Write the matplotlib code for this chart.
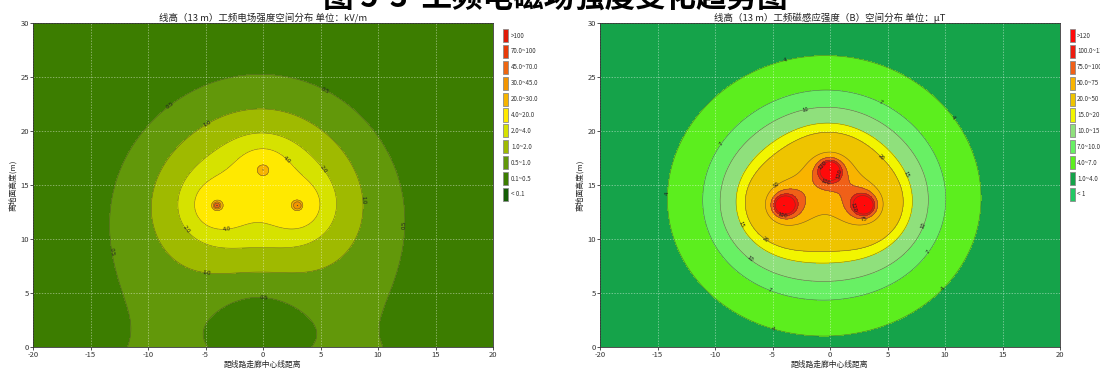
import numpy as np
import matplotlib
matplotlib.use("Agg")
import matplotlib.pyplot as plt
from matplotlib.patches import Rectangle

plt.rcParams['font.family'] = ['Noto Sans CJK SC', 'DejaVu Sans']
plt.rcParams['axes.unicode_minus'] = False

W, H = 1100, 373

# ---- line geometry (m) ----
cond_x = [-4.0, 0.0, 3.0]
cond_y = [13.1, 16.4, 13.1]
phase_deg = [0.0, -120.0, 120.0]

# electric field: line-charge strength (kV/m * m), ground-image weight,
# peak value at each conductor and lowest shown value (kV/m)
e_charge = [9.8, 9.8, 9.8]
e_image = 1.5
e_peak = [60.0, 28.0, 40.0]
e_floor = 0.12

# magnetic field: current term (uT * m)
b_current = [100.0, 100.0, 100.0]

# ---- colour classes ----
e_levels = [0, 0.1, 0.5, 1.0, 2.0, 4.0, 20.0, 30.0, 45.0, 70.0, 100.0, 1e5]
e_colors = ['#145c05', '#3c7d00', '#62980a', '#9fba00', '#d6e200', '#ffe900',
            '#f6b400', '#f39500', '#ef6610', '#e83a08', '#e01a08']
e_legend = ['< 0.1', '0.1~0.5', '0.5~1.0', '1.0~2.0', '2.0~4.0', '4.0~20.0',
            '20.0~30.0', '30.0~45.0', '45.0~70.0', '70.0~100', '>100']
e_line_levels = [0.5, 1.0, 2.0, 4.0, 20.0, 30.0, 45.0, 70.0, 100.0]
e_label_levels = [0.5, 1.0, 2.0, 4.0]

b_levels = [0, 1, 4, 7, 10, 15, 20, 50, 75, 100, 120, 1e6]
b_colors = ['#22c864', '#15a34a', '#5cee1e', '#68f064', '#8fe07c', '#f2f500',
            '#eec400', '#f9b400', '#f06018', '#ee1c10', '#ff0a0a']
b_legend = ['< 1', '1.0~4.0', '4.0~7.0', '7.0~10.0', '10.0~15', '15.0~20',
            '20.0~50', '50.0~75', '75.0~100', '100.0~120', '>120']
b_line_levels = [4, 7, 10, 15, 20, 50, 75, 100, 120]
b_label_levels = [4, 7, 10, 15, 20, 50, 75, 100, 120]

# ---- field computation on a grid ----
xg = np.linspace(-20, 20, 801)
yg = np.linspace(0, 30, 601)
X, Y = np.meshgrid(xg, yg)

Ex = np.zeros_like(X, dtype=complex)
Ey = np.zeros_like(X, dtype=complex)
Bx = np.zeros_like(X, dtype=complex)
By = np.zeros_like(X, dtype=complex)
cap = np.full_like(X, np.inf)
for xc, yc, q, cur, ph, pk in zip(cond_x, cond_y, e_charge, b_current, phase_deg, e_peak):
    p = np.exp(1j * np.deg2rad(ph))
    # conductor and its image below the ground plane
    for sgn, yy in ((1.0, yc), (-e_image, -yc)):
        dx = X - xc
        dy = Y - yy
        r2 = dx ** 2 + dy ** 2 + 1e-9
        Ex += sgn * q * p * dx / r2
        Ey += sgn * q * p * dy / r2
    dx = X - xc
    dy = Y - yc
    r2 = dx ** 2 + dy ** 2 + 1e-9
    Bx += -cur * p * dy / r2
    By += cur * p * dx / r2
    cap = np.where(r2 < 1.5 ** 2, np.minimum(cap, pk), cap)

E = np.sqrt(np.abs(Ex) ** 2 + np.abs(Ey) ** 2)
E = np.clip(E, e_floor, cap)
B = np.sqrt(np.abs(Bx) ** 2 + np.abs(By) ** 2)
B = np.minimum(B, 200.0)

fig = plt.figure(figsize=(W / 100, H / 100), dpi=100)

ax_e = fig.add_axes([33 / W, 1 - 347 / H, 460 / W, 324 / H])
ax_b = fig.add_axes([600 / W, 1 - 347 / H, 460 / W, 324 / H])

e_label_pos = [(-8.5, 22.9), (5.7, 24.3), (12.8, 11.3), (-13.7, 8.7), (0.0, 3.1),
               (-5.0, 21.0), (9.1, 13.6), (-5.0, 6.2),
               (5.6, 16.7), (-7.0, 10.6),
               (2.2, 17.5), (-3.1, 10.9)]
b_label_pos = [(-3.8, 26.2), (10.5, 21.1), (-13.7, 14.2), (9.7, 5.5), (-4.9, 2.0),
               (4.4, 22.5), (-9.3, 18.7), (8.5, 8.9), (-5.2, 5.4),
               (-2.1, 21.8), (8.1, 11.3), (-6.9, 8.2),
               (6.5, 15.9), (-7.7, 11.4),
               (4.4, 17.5), (-5.6, 10.0),
               (-4.5, 14.8),
               (-0.4, 15.1), (2.9, 12.0),
               (-0.7, 16.9), (-4.1, 12.1), (2.2, 13.0),
               (0.6, 16.1)]


def draw_panel(ax, Z, levels, colors, line_levels, label_levels, fmt, label_pos, title):
    ax.contourf(X, Y, Z, levels=levels, colors=colors)
    ax.contour(X, Y, Z, levels=line_levels, colors='#4a4a30', linewidths=0.4, alpha=0.75)
    cl = ax.contour(X, Y, Z, levels=label_levels, colors='none', linewidths=0)
    ax.clabel(cl, fmt=fmt, fontsize=4.3, inline=True, inline_spacing=1,
              colors='#222222', manual=label_pos)
    ax.set_xlim(-20, 20)
    ax.set_ylim(0, 30)
    ax.set_xticks(np.arange(-20, 21, 5))
    ax.set_yticks(np.arange(0, 31, 5))
    ax.grid(True, color='white', ls=(0, (2, 2)), lw=0.5, alpha=0.55)
    ax.tick_params(labelsize=5.5, length=2, width=0.6, pad=1, colors='#333333')
    for s in ax.spines.values():
        s.set_linewidth(0.6)
        s.set_color('#333333')
    ax.set_title(title, fontsize=6.8, pad=1.5, color='#222222')
    ax.set_xlabel('距线路走廊中心线距离', fontsize=5.6, labelpad=1, color='#222222')
    ax.set_ylabel('离地面高度(m)', fontsize=5.6, labelpad=2, color='#222222')


draw_panel(ax_e, E, e_levels, e_colors, e_line_levels, e_label_levels, '%.1f',
           e_label_pos, '线高（13 m）工频电场强度空间分布 单位：kV/m')
draw_panel(ax_b, B, b_levels, b_colors, b_line_levels, b_label_levels, '%d',
           b_label_pos, '线高（13 m）工频磁感应强度（B）空间分布 单位：μT')


def draw_legend(x_box, x_text, labels, colors):
    for i, (lab, col) in enumerate(zip(labels[::-1], colors[::-1])):
        top = 29 + i * 15.9
        fig.add_artist(Rectangle((x_box / W, 1 - (top + 13) / H), 5 / W, 13 / H,
                                 transform=fig.transFigure, facecolor=col,
                                 edgecolor='#8c8c8c', lw=0.6))
        fig.text(x_text / W, 1 - (top + 6.5) / H, lab, fontsize=4.5,
                 va='center', ha='left', color='#333333')


draw_legend(503, 511, e_legend, e_colors)
draw_legend(1070, 1077, b_legend, b_colors)

fig.text(0.505, 1 - 14 / H, '图 5-3  工频电磁场强度变化趋势图', fontsize=22,
         fontweight='bold', ha='center', va='bottom', color='black')

fig.savefig('out.png', dpi=100)
